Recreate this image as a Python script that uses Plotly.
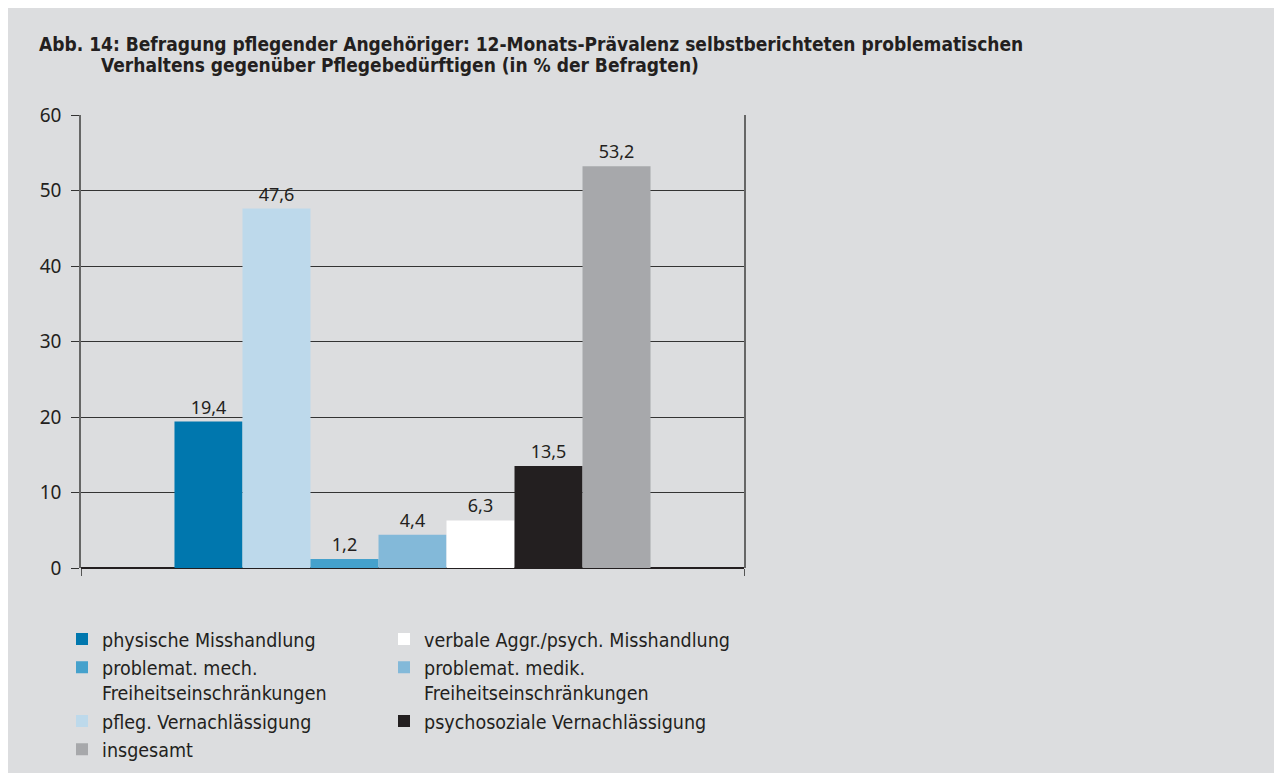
import plotly.graph_objects as go

# Daten (Abb. 14)
kategorie = [""]
namen = [
    "physische Misshandlung",
    "pfleg. Vernachlässigung",
    "problemat. mech.<br>Freiheitseinschränkungen",
    "problemat. medik.<br>Freiheitseinschränkungen",
    "verbale Aggr./psych. Misshandlung",
    "psychosoziale Vernachlässigung",
    "insgesamt",
]
werte = [19.4, 47.6, 1.2, 4.4, 6.3, 13.5, 53.2]
farben = ["#0077ae", "#bdd9eb", "#45a1cc", "#83b9d9", "#ffffff", "#231f20", "#a7a8ab"]
# Legendenspalte (links / rechts) und Reihenfolge innerhalb der Spalte
spalte = ["legend", "legend", "legend", "legend2", "legend2", "legend2", "legend"]
rang = [1, 3, 2, 2, 1, 3, 4]

BG = "#dcdddf"
TXT = "#231f20"
COND = "Liberation Sans Narrow, DejaVu Sans Condensed, Arial Narrow, sans-serif"
REG = "Noto Sans, Open Sans, sans-serif"

fig = go.Figure()
for n, w, f, s, r in zip(namen, werte, farben, spalte, rang):
    fig.add_trace(go.Bar(
        x=kategorie, y=[w], name=n, marker=dict(color=f, line=dict(width=0)),
        texttemplate="%{y:.1f}", textposition="outside", cliponaxis=False,
        textfont=dict(family=REG, size=18, color=TXT),
        legend=s, legendrank=r,
    ))

# Seitenrand des Browsers (body margin) = 8 px
OFF = 8
W, H = 1282, 773
L, R, T, B = 81 - OFF, 1282 - (744 - OFF), 115 - OFF, 773 - (579 - OFF)
pw, ph = W - L - R, H - T - B

def px(x):
    return (x - OFF - L) / pw

def py(y):
    return (H - B - (y - OFF)) / ph

leg = dict(y=py(632), xanchor="left", yanchor="top",
           font=dict(family=COND, size=19.5, color=TXT),
           valign="top", tracegroupgap=0, bgcolor="rgba(0,0,0,0)")

fig.update_layout(
    width=W, height=H,
    margin=dict(l=L, r=R, t=T, b=B),
    paper_bgcolor=BG, plot_bgcolor=BG,
    separators=",.",
    barmode="group", bargap=0.282, bargroupgap=0,
    showlegend=True,
    legend=dict(leg, x=px(62)),
    legend2=dict(leg, x=px(384)),
    xaxis=dict(showticklabels=False, showgrid=False, tickson="boundaries",
               ticks="outside", ticklen=7, tickcolor="#555", showline=False),
    yaxis=dict(range=[0, 60], dtick=10, showgrid=True, gridcolor="#333333", gridwidth=1,
               zeroline=True, zerolinecolor="#231f20", zerolinewidth=1.5,
               showline=True, mirror=True, linecolor="#666666", linewidth=1.5,
               ticks="outside", ticklen=8, tickcolor="#333333",
               ticklabelstandoff=6,
               tickfont=dict(family=REG, size=19, color=TXT)),
    annotations=[
        dict(text="<b>Abb. 14: Befragung pflegender Angehöriger: 12-Monats-Prävalenz selbstberichteten problematischen</b>",
             xref="paper", yref="paper", x=px(37), y=py(42), xanchor="left", yanchor="middle",
             showarrow=False, font=dict(family=COND, size=19, color=TXT)),
        dict(text="<b>Verhaltens gegenüber Pflegebedürftigen (in % der Befragten)</b>",
             xref="paper", yref="paper", x=px(99), y=py(64), xanchor="left", yanchor="middle",
             showarrow=False, font=dict(family=COND, size=19, color=TXT)),
    ],
)

fig.write_html("out.html")
